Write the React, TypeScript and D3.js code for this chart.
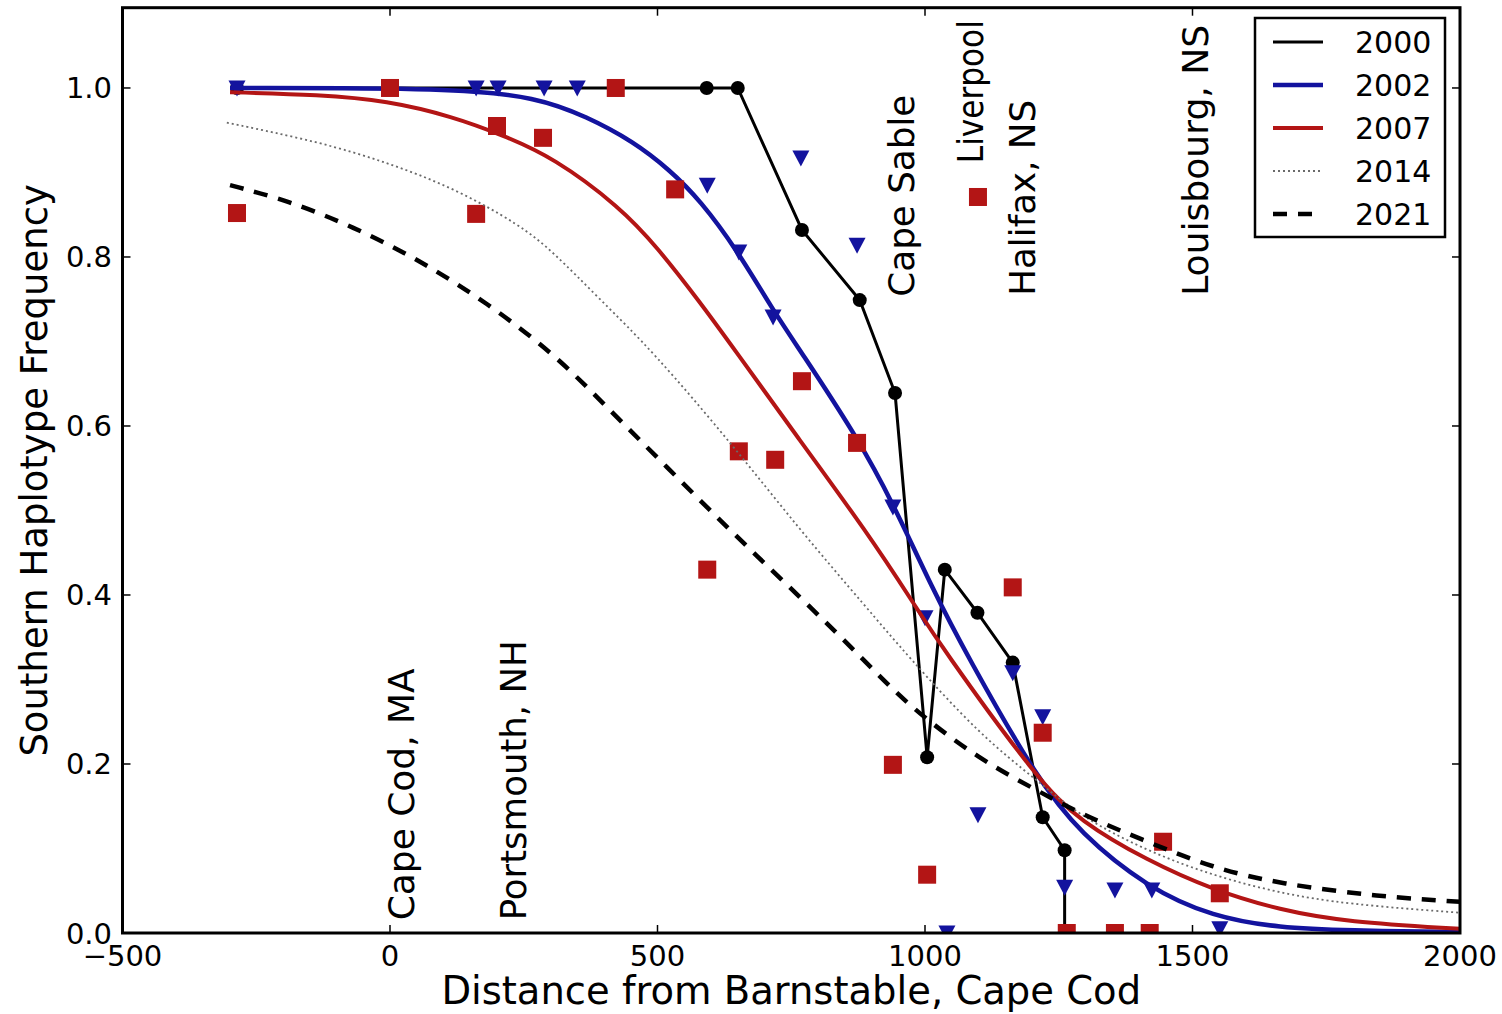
import React from 'react';
import * as d3 from 'd3';

const X_TICKS = [-500, 0, 500, 1000, 1500, 2000];
const X_TICK_LABELS = ['\u2212500', '0', '500', '1000', '1500', '2000'];
const Y_TICKS = [0, 0.2, 0.4, 0.6, 0.8, 1.0];
const Y_TICK_LABELS = ['0.0', '0.2', '0.4', '0.6', '0.8', '1.0'];

// observed frequencies: [distance from Barnstable, frequency]
const obs2000 = [
  [-286, 1], [0, 1], [592, 1], [650, 1], [770, 0.832], [878, 0.749],
  [944, 0.639], [1004, 0.208], [1037, 0.43], [1098, 0.379], [1164, 0.32],
  [1220, 0.137], [1261, 0.098], [1261, 0],
];
const obs2002 = [
  [-286, 1], [161, 1], [202, 1], [288, 1], [350, 1], [593, 0.885],
  [652, 0.806], [716, 0.729], [768, 0.917], [873, 0.814], [940, 0.504],
  [1000, 0.373], [1041, 0], [1099, 0.14], [1164, 0.308], [1220, 0.256],
  [1261, 0.054], [1355, 0.051], [1424, 0.051], [1551, 0.005],
];
const obs2007 = [
  [-286, 0.852], [0, 1], [161, 0.851], [200, 0.955], [286, 0.941],
  [422, 1], [533, 0.88], [593, 0.43], [652, 0.57], [720, 0.56],
  [770, 0.653], [873, 0.58], [940, 0.199], [1004, 0.069], [1099, 0.871],
  [1164, 0.409], [1220, 0.237], [1265, 0], [1355, 0], [1420, 0],
  [1445, 0.108], [1551, 0.047],
];

// fitted clines
const fit2002 = [
  [-299, 1], [118, 1], [275, 0.989], [368, 0.966], [454, 0.937],
  [523, 0.903], [580, 0.867], [649, 0.808], [716, 0.737], [766, 0.69],
  [873, 0.587], [940, 0.509], [1015, 0.406], [1078, 0.329], [1211, 0.181],
  [1290, 0.118], [1415, 0.054], [1538, 0.019], [1664, 0.006],
  [1789, 0.003], [2000, 0.001],
];
const fit2007 = [
  [-299, 0.995], [-131, 0.992], [-6, 0.985], [118, 0.966], [211, 0.944],
  [305, 0.918], [430, 0.859], [499, 0.812], [580, 0.746], [641, 0.693],
  [766, 0.583], [891, 0.475], [981, 0.388], [1028, 0.341], [1211, 0.181],
  [1290, 0.132], [1415, 0.086], [1538, 0.051], [1664, 0.027],
  [1789, 0.013], [2000, 0.005],
];
const fit2014 = [
  [-305, 0.959], [-131, 0.936], [-6, 0.912], [118, 0.882], [243, 0.838],
  [305, 0.806], [392, 0.75], [492, 0.688], [641, 0.577], [766, 0.477],
  [891, 0.385], [966, 0.329], [1103, 0.234], [1209, 0.181], [1290, 0.138],
  [1415, 0.097], [1538, 0.068], [1664, 0.047], [1789, 0.034], [2000, 0.024],
];
const fit2021 = [
  [-299, 0.885], [-192, 0.867], [-69, 0.836], [56, 0.796], [181, 0.746],
  [305, 0.686], [392, 0.631], [518, 0.551], [641, 0.473], [766, 0.398],
  [891, 0.32], [972, 0.267], [1103, 0.205], [1209, 0.169], [1290, 0.141],
  [1415, 0.108], [1538, 0.077], [1664, 0.058], [1850, 0.043], [2000, 0.037],
];

const SITES = ['Cape Cod, MA', 'Portsmouth, NH', 'Cape Sable', 'Liverpool', 'Halifax, NS', 'Louisbourg, NS'];
const SITE_X = [45, 254, 979, 1108, 1206, 1529];
const SITE_Y = [0.015, 0.015, 0.753, 0.911, 0.754, 0.754];

const YEARS = ['2000', '2002', '2007', '2014', '2021'];

const BLUE = '#13139e';
const RED = '#b31515';
const FONT = '"DejaVu Sans", sans-serif';

const styles = {
  '2000': { stroke: '#000', width: 3, dash: null },
  '2002': { stroke: BLUE, width: 4.5, dash: null },
  '2007': { stroke: RED, width: 4, dash: null },
  '2014': { stroke: '#6a6a6a', width: 1.8, dash: '2 3' },
  '2021': { stroke: '#000', width: 4.5, dash: '14 11' },
};

// label lengths along the text, as measured in the reference
const SITE_LEN = [252, 280, 202, 143, 196, 271];

export default function App() {
  const left = 122.5;
  const right = 1460;
  const top = 7.7;
  const bottom = 933;

  const x = d3.scaleLinear().domain([-500, 2000]).range([left, right]);
  const y = d3.scaleLinear().domain([0, 1.095]).range([bottom, top]);

  const smooth = d3.line<number[]>()
    .x(d => x(d[0]))
    .y(d => y(d[1]))
    .curve(d3.curveBasis);
  const straight = d3.line<number[]>()
    .x(d => x(d[0]))
    .y(d => y(d[1]));

  const tri = (cx: number, cy: number) =>
    `M${cx - 8.5},${cy - 7.5}L${cx + 8.5},${cy - 7.5}L${cx},${cy + 8.5}Z`;

  const fitPath = (data: number[][], year: string) => {
    const s = styles[year];
    return (
      <path
        d={smooth(data) || ''}
        fill="none"
        stroke={s.stroke}
        strokeWidth={s.width}
        strokeDasharray={s.dash || undefined}
      />
    );
  };

  return (
    <svg
      width={1502}
      height={1014}
      style={{ position: 'absolute', left: 0, top: 0, background: '#fff' }}
      fontFamily={FONT}
    >
      <rect x={0} y={0} width={1502} height={1014} fill="#fff" />
      <defs>
        <clipPath id="plot">
          <rect x={left} y={top} width={right - left} height={bottom - top} />
        </clipPath>
      </defs>

      <g clipPath="url(#plot)">
        {/* 2000 */}
        <path d={straight(obs2000) || ''} fill="none" stroke="#000" strokeWidth={3} />
        {obs2000.map((d, i) => (
          <circle key={`c${i}`} cx={x(d[0])} cy={y(d[1])} r={7} fill="#000" />
        ))}

        {/* 2002 */}
        {fitPath(fit2002, '2002')}
        {obs2002.map((d, i) => (
          <path key={`t${i}`} d={tri(x(d[0]), y(d[1]))} fill={BLUE} />
        ))}

        {/* 2007 */}
        {fitPath(fit2007, '2007')}
        {obs2007.map((d, i) => (
          <rect key={`s${i}`} x={x(d[0]) - 9} y={y(d[1]) - 9} width={18} height={18} fill={RED} />
        ))}

        {fitPath(fit2014, '2014')}
        {fitPath(fit2021, '2021')}
      </g>

      {/* site labels */}
      {SITES.map((name, i) => (
        <text
          key={name}
          transform={`translate(${x(SITE_X[i])},${y(SITE_Y[i])}) rotate(-90)`}
          fontSize={35}
          textLength={SITE_LEN[i]}
          lengthAdjust="spacingAndGlyphs"
          fill="#000"
        >
          {name}
        </text>
      ))}

      {/* frame */}
      <rect x={left} y={top} width={right - left} height={bottom - top} fill="none" stroke="#000" strokeWidth={3} />

      {/* ticks */}
      {X_TICKS.map(t => (
        <g key={`xt${t}`}>
          <line x1={x(t)} x2={x(t)} y1={bottom} y2={bottom - 8} stroke="#000" strokeWidth={1.5} />
          <line x1={x(t)} x2={x(t)} y1={top} y2={top + 8} stroke="#000" strokeWidth={1.5} />
        </g>
      ))}
      {Y_TICKS.map(t => (
        <g key={`yt${t}`}>
          <line x1={left} x2={left + 8} y1={y(t)} y2={y(t)} stroke="#000" strokeWidth={1.5} />
          <line x1={right} x2={right - 8} y1={y(t)} y2={y(t)} stroke="#000" strokeWidth={1.5} />
        </g>
      ))}

      {/* tick labels */}
      {X_TICKS.map((t, i) => (
        <text key={`xl${t}`} x={x(t)} y={966} fontSize={29} textAnchor="middle" fill="#000">
          {X_TICK_LABELS[i]}
        </text>
      ))}
      {Y_TICKS.map((t, i) => (
        <text key={`yl${t}`} x={112} y={y(t) + 10.5} fontSize={29} textAnchor="end" fill="#000">
          {Y_TICK_LABELS[i]}
        </text>
      ))}

      {/* axis labels */}
      <text x={(left + right) / 2} y={1004} fontSize={38.5} textAnchor="middle" fill="#000">
        Distance from Barnstable, Cape Cod
      </text>
      <text
        transform={`translate(47,${(top + bottom) / 2}) rotate(-90)`}
        fontSize={37}
        textAnchor="middle"
        fill="#000"
      >
        Southern Haplotype Frequency
      </text>

      {/* legend */}
      <g>
        <rect x={1255} y={18} width={190} height={219} fill="#fff" stroke="#000" strokeWidth={2.5} />
        {YEARS.map((yr, i) => {
          const s = styles[yr];
          const cy = 42 + i * 43;
          return (
            <g key={yr}>
              <line
                x1={1273}
                x2={1323}
                y1={cy}
                y2={cy}
                stroke={s.stroke}
                strokeWidth={s.width}
                strokeDasharray={s.dash || undefined}
              />
              <text x={1355} y={cy + 11} fontSize={30} fill="#000">{yr}</text>
            </g>
          );
        })}
      </g>
    </svg>
  );
}
